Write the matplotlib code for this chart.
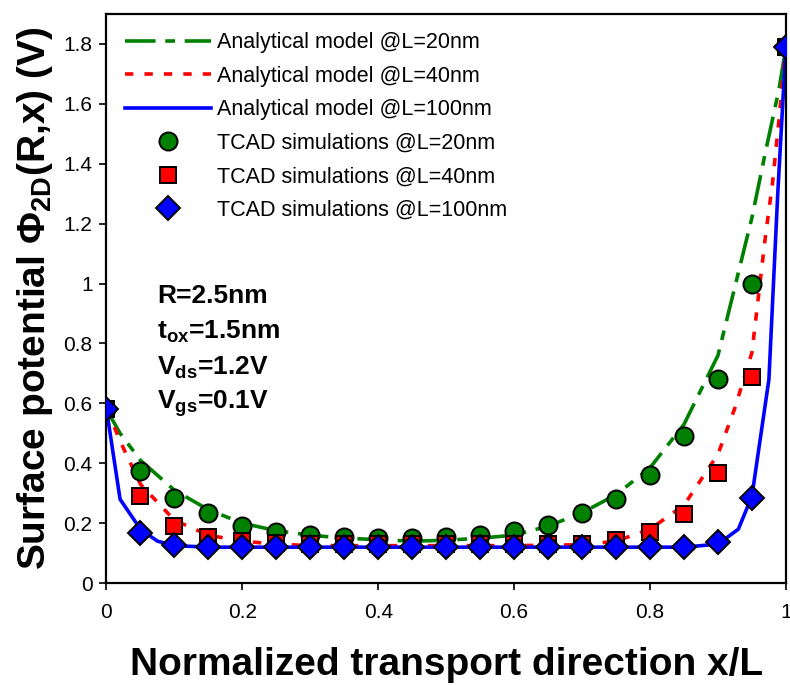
import matplotlib.pyplot as plt
import numpy as np

plt.rcParams['font.family'] = ['Liberation Sans', 'DejaVu Sans']
plt.rcParams['mathtext.fontset'] = 'custom'
plt.rcParams['mathtext.rm'] = 'Liberation Sans:bold'
plt.rcParams['mathtext.bf'] = 'Liberation Sans:bold'
plt.rcParams['mathtext.default'] = 'bf'
plt.rcParams['lines.scale_dashes'] = False

# TCAD points, x/L = 0, 0.05, ... 1
x_tcad = [0, 0.05, 0.1, 0.15, 0.2, 0.25, 0.3, 0.35, 0.4, 0.45, 0.5,
          0.55, 0.6, 0.65, 0.7, 0.75, 0.8, 0.85, 0.9, 0.95, 1.0]
tcad_20 = [0.58, 0.375, 0.285, 0.233, 0.192, 0.172, 0.16, 0.155, 0.149, 0.149, 0.155,
           0.16, 0.173, 0.195, 0.233, 0.28, 0.36, 0.49, 0.683, 1.0, 1.79]
tcad_40 = [0.58, 0.29, 0.192, 0.155, 0.14, 0.135, 0.132, 0.13, 0.13, 0.13, 0.13,
           0.13, 0.13, 0.13, 0.132, 0.145, 0.17, 0.232, 0.367, 0.687, 1.79]
tcad_100 = [0.58, 0.168, 0.128, 0.122, 0.12, 0.12, 0.12, 0.12, 0.12, 0.12, 0.12,
            0.12, 0.12, 0.12, 0.12, 0.12, 0.12, 0.12, 0.138, 0.283, 1.79]

# analytical model curves
x_m20 = [0, 0.02, 0.05, 0.1, 0.15, 0.2, 0.25, 0.3, 0.35, 0.4, 0.45, 0.5, 0.55,
         0.6, 0.65, 0.7, 0.75, 0.8, 0.85, 0.9, 0.95, 0.97, 0.99, 1.0]
m20 = [0.58, 0.5, 0.41, 0.31, 0.245, 0.2, 0.175, 0.16, 0.15, 0.145, 0.14, 0.143, 0.15,
       0.16, 0.19, 0.235, 0.295, 0.385, 0.53, 0.76, 1.22, 1.44, 1.65, 1.79]
x_m40 = [0, 0.025, 0.05, 0.1, 0.15, 0.2, 0.25, 0.3, 0.4, 0.5, 0.6, 0.7,
         0.75, 0.8, 0.85, 0.9, 0.925, 0.95, 0.97, 0.98, 0.99, 1.0]
m40 = [0.58, 0.45, 0.33, 0.21, 0.16, 0.14, 0.13, 0.125, 0.125, 0.125, 0.125, 0.128,
       0.14, 0.18, 0.26, 0.43, 0.585, 0.77, 1.16, 1.33, 1.55, 1.79]
x_m100 = [0, 0.02, 0.05, 0.075, 0.1, 0.15, 0.3, 0.5, 0.7, 0.85, 0.9,
          0.93, 0.95, 0.975, 0.988, 1.0]
m100 = [0.58, 0.28, 0.18, 0.14, 0.125, 0.12, 0.12, 0.12, 0.12, 0.12, 0.13,
        0.18, 0.29, 0.68, 1.3, 1.79]

fig = plt.figure(figsize=(7.9, 6.86), dpi=100)
ax = fig.add_axes([0.1348, 0.150, 0.86, 0.8296])

ax.plot(x_m20, m20, color='green', lw=2.6, dashes=(22, 7, 7, 7),
        label='Analytical model @L=20nm')
ax.plot(x_m40, m40, color='red', lw=2.6, dashes=(6, 8),
        label='Analytical model @L=40nm')
ax.plot(x_m100, m100, color='blue', lw=2.6,
        label='Analytical model @L=100nm')
ax.plot(x_tcad, tcad_20, 'o', ms=13, mfc='green', mec='black', mew=1.4,
        label='TCAD simulations @L=20nm', zorder=3)
ax.plot(x_tcad, tcad_40, 's', ms=11, mfc='red', mec='black', mew=1.4,
        label='TCAD simulations @L=40nm', zorder=3)
ax.plot(x_tcad, tcad_100, 'D', ms=12.5, mfc='blue', mec='black', mew=1.4,
        label='TCAD simulations @L=100nm', zorder=4)

ax.set_xlim(0, 1)
ax.set_ylim(0, 1.9)
ax.set_xticks([0, 0.2, 0.4, 0.6, 0.8, 1])
ax.set_xticklabels(['0', '0.2', '0.4', '0.6', '0.8', '1'])
ax.set_yticks([0, 0.2, 0.4, 0.6, 0.8, 1, 1.2, 1.4, 1.6, 1.8])
ax.set_yticklabels(['0', '0.2', '0.4', '0.6', '0.8', '1', '1.2', '1.4', '1.6', '1.8'])
ax.tick_params(direction='out', length=5, width=1.2, labelsize=15, pad=5)
ax.tick_params(axis='x', pad=9)
for s in ax.spines.values():
    s.set_linewidth(1.6)

ax.set_xlabel('Normalized transport direction x/L', fontsize=28, fontweight='bold', labelpad=18)
ax.set_ylabel(r'Surface potential $\Phi_{2D}$(R,x) (V)', fontsize=28, fontweight='bold', labelpad=6)

ax.legend(loc='upper left', frameon=False, fontsize=15.5, handlelength=4.0,
          handletextpad=0.3, labelspacing=0.58, borderaxespad=0.45, numpoints=1)

txt = ['R=2.5nm', r't$_{ox}$=1.5nm', r'V$_{ds}$=1.2V', r'V$_{gs}$=0.1V']
for i, t in enumerate(txt):
    ax.text(0.075, 0.96 - i * 0.12, t, fontsize=19, fontweight='bold', va='center')

fig.savefig('out.png', dpi=100)
